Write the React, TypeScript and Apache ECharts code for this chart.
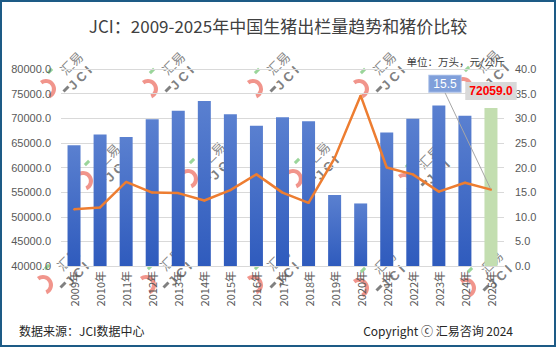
import React, { useEffect, useRef } from "react";
import * as echarts from "echarts";

const years = ["2009年", "2010年", "2011年", "2012年", "2013年", "2014年", "2015年", "2016年", "2017年", "2018年", "2019年", "2020年", "2021年", "2022年", "2023年", "2024年", "2025年"];
const hogOutput = [64500, 66700, 66200, 69800, 71500, 73500, 70800, 68500, 70200, 69400, 54400, 52700, 67100, 69900, 72600, 70500, 72059];
const hogPrice = [11.5, 11.9, 17.1, 14.9, 14.8, 13.3, 15.4, 18.6, 14.9, 12.8, 21.9, 34.6, 20.0, 18.6, 15.1, 16.9, 15.5];
const outputAxis = [40000, 80000, 5000];
const priceAxis = [0, 40, 5];

const titleText = "JCI：2009-2025年中国生猪出栏量趋势和猪价比较";
const unitText = "单位：万头，元/公斤";
const sourceText = "数据来源：JCI数据中心";
const copyrightText = "Copyright ⓒ 汇易咨询 2024";

// decorative watermark anchor points (layout only)
const watermarkSpots = [
  [50, 88], [152, 88], [257, 88], [363, 88], [467, 86],
  [87, 180], [192, 178], [297, 178], [408, 182],
  [47, 284], [150, 284], [257, 284], [363, 287], [470, 287],
];

const CJK = "'Noto Sans CJK SC', 'Noto Sans', sans-serif";
const NUM = "'Liberation Sans', Arial, sans-serif";

function watermark(x: number, y: number) {
  const r = Math.PI / 4;
  return {
    type: "group",
    x,
    y,
    silent: true,
    z: 50,
    children: [
      {
        type: "arc",
        shape: { cx: -4, cy: 1, r: 8, startAngle: -2.22, endAngle: 1.15, clockwise: true },
        style: { stroke: "#f08a80", lineWidth: 4, fill: "none", opacity: 0.9 },
      },
      {
        type: "rect",
        x: 0,
        y: -17,
        rotation: r,
        shape: { x: -3, y: -1.5, width: 6, height: 3 },
        style: { fill: "#8fd08f", opacity: 0.9 },
      },
      {
        type: "rect",
        x: 16,
        y: 1,
        rotation: r,
        shape: { x: -3.5, y: -1.5, width: 7, height: 3 },
        style: { fill: "#6a6a6a", opacity: 0.85 },
      },
      {
        type: "text",
        x: 21,
        y: -25,
        rotation: r,
        style: { text: "汇易", fontSize: 13, fontFamily: CJK, fill: "#7a7a7a", align: "center", verticalAlign: "middle", opacity: 0.9 },
      },
      {
        type: "text",
        x: 30,
        y: -10,
        rotation: r,
        style: { text: "J C I", fontSize: 13, fontWeight: "bold", fontFamily: NUM, fill: "#6f6f6f", align: "center", verticalAlign: "middle", opacity: 0.9 },
      },
    ],
  };
}

export default function App() {
  const ref = useRef<HTMLDivElement>(null);

  useEffect(() => {
    if (!ref.current) return;
    const chart = echarts.init(ref.current, undefined, { renderer: "svg" });
    const last = years.length - 1;

    const barData = hogOutput.map((v, i) =>
      i === last
        ? {
            value: v,
            itemStyle: { color: "#c3deb0" },
            label: {
              show: true,
              position: "top",
              distance: 8,
              formatter: (p: any) => Number(p.value).toFixed(1),
              color: "#ff0000",
              fontWeight: "bold",
              fontSize: 12,
              fontFamily: NUM,
              backgroundColor: "#d9d9d9",
              padding: [3, 4, 3, 4],
            },
          }
        : v
    );

    const lineData = hogPrice.map((v, i) =>
      i === last
        ? {
            value: v,
            label: {
              show: true,
              position: "top",
              formatter: (p: any) => Number(p.value).toFixed(1),
              color: "#ffffff",
              fontSize: 12,
              fontFamily: NUM,
              backgroundColor: "#7f9fda",
              borderColor: "#a9bfe8",
              borderWidth: 1,
              padding: [2, 4, 2, 4],
            },
          }
        : v
    );

    chart.setOption({
      animation: false,
      backgroundColor: "#ffffff",
      title: {
        text: titleText,
        left: "center",
        top: 12,
        textStyle: { fontSize: 17, fontWeight: "normal", color: "#404040", fontFamily: CJK },
      },
      grid: { left: 61, right: 52, top: 69, bottom: 81, containLabel: false },
      xAxis: {
        type: "category",
        data: years,
        axisLine: { lineStyle: { color: "#d9d9d9" } },
        axisTick: { show: false },
        axisLabel: { rotate: 90, fontSize: 11, color: "#595959", fontFamily: CJK, margin: 5, interval: 0 },
      },
      yAxis: [
        {
          type: "value",
          min: outputAxis[0],
          max: outputAxis[1],
          interval: outputAxis[2],
          axisLine: { show: false },
          axisTick: { show: false },
          splitLine: { lineStyle: { color: "#d9d9d9" } },
          axisLabel: { formatter: (v: number) => v.toFixed(1), fontSize: 11, color: "#595959", fontFamily: NUM, margin: 10 },
        },
        {
          type: "value",
          min: priceAxis[0],
          max: priceAxis[1],
          interval: priceAxis[2],
          axisLine: { show: false },
          axisTick: { show: false },
          splitLine: { show: false },
          axisLabel: { formatter: (v: number) => v.toFixed(1), fontSize: 11, color: "#595959", fontFamily: NUM, margin: 11 },
        },
      ],
      series: [
        {
          type: "bar",
          yAxisIndex: 0,
          barWidth: 13,
          data: barData,
          itemStyle: {
            color: new echarts.graphic.LinearGradient(0, 0, 0, 1, [
              { offset: 0, color: "#5a80d0" },
              { offset: 1, color: "#2f5bbd" },
            ]),
          },
        },
        {
          type: "line",
          yAxisIndex: 1,
          data: lineData,
          symbol: "circle",
          symbolSize: 2,
          showSymbol: true,
          lineStyle: { color: "#ed7d31", width: 2.5 },
          itemStyle: { color: "#ed7d31" },
          z: 5,
          labelLayout: (p: any) => (p.dataIndex === last ? { dx: -46, dy: -92 } : {}),
          labelLine: { show: true, lineStyle: { color: "#a6a6a6", width: 1 } },
        },
      ],
      graphic: [
        {
          type: "text",
          right: 51,
          top: 56,
          style: { text: unitText, fontSize: 10.5, fill: "#404040", fontFamily: CJK },
          z: 10,
        },
        {
          type: "text",
          left: 19,
          top: 324,
          style: { text: sourceText, fontSize: 12, fill: "#262626", fontFamily: CJK },
        },
        {
          type: "text",
          right: 43,
          top: 324,
          style: { text: copyrightText, fontSize: 12, fill: "#262626", fontFamily: CJK },
        },
        ...watermarkSpots.map(([x, y]) => watermark(x, y)),
        {
          type: "rect",
          shape: { x: 1, y: 1, width: 554, height: 345 },
          style: { fill: "none", stroke: "#1d5b86", lineWidth: 2 },
          silent: true,
          z: 100,
        },
      ],
    });

    return () => chart.dispose();
  }, []);

  return (
    <div
      ref={ref}
      style={{ position: "fixed", left: 0, top: 0, width: 556, height: 347, background: "#fff" }}
    />
  );
}
